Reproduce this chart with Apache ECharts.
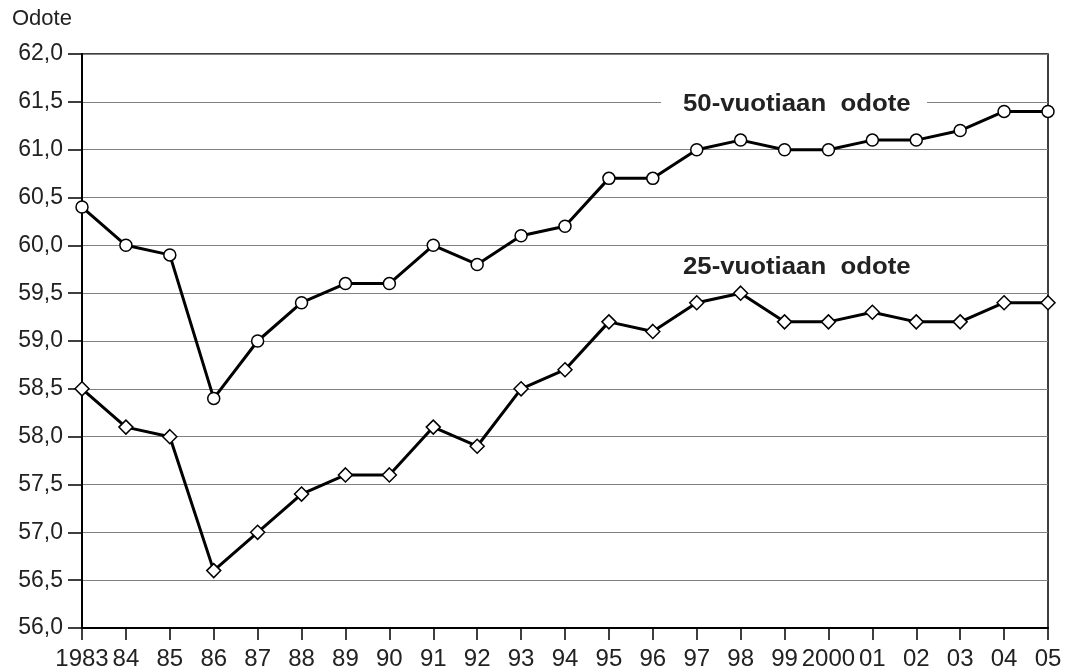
<!DOCTYPE html>
<html>
<head>
<meta charset="utf-8">
<script src="https://cdn.jsdelivr.net/npm/echarts@6/dist/echarts.min.js"></script>
<style>html,body{margin:0;padding:0;background:#fff}#c{width:1071px;height:672px}</style>
</head>
<body>
<div id="c"></div>
<script>
const years = ['1983','84','85','86','87','88','89','90','91','92','93','94','95','96','97','98','99','2000','01','02','03','04','05'];
const age50 = [60.4,60.0,59.9,58.4,59.0,59.4,59.6,59.6,60.0,59.8,60.1,60.2,60.7,60.7,61.0,61.1,61.0,61.0,61.1,61.1,61.2,61.4,61.4];
const age25 = [58.5,58.1,58.0,56.6,57.0,57.4,57.6,57.6,58.1,57.9,58.5,58.7,59.2,59.1,59.4,59.5,59.2,59.2,59.3,59.2,59.2,59.4,59.4];
const yTitle = 'Odote';
const label50 = '50-vuotiaan  odote';
const label25 = '25-vuotiaan  odote';

const chart = echarts.init(document.getElementById('c'));
const font = '"Liberation Sans", Arial, sans-serif';
chart.setOption({
  animation: false,
  grid: {left: 82, right: 23, top: 54, bottom: 44, show: true, borderColor: '#000', borderWidth: 1.5},
  xAxis: {
    type: 'category', data: years, boundaryGap: false,
    axisLine: {show: true, lineStyle: {color: '#000', width: 2}},
    axisTick: {show: true, interval: 0, inside: false, length: 12, lineStyle: {color: '#000', width: 1.5}},
    axisLabel: {color: '#222', fontSize: 24, fontFamily: font, margin: 19, interval: 0},
    splitLine: {show: false}
  },
  yAxis: {
    type: 'value', min: 56, max: 62, interval: 0.5,
    name: yTitle, nameLocation: 'end', nameGap: 24,
    nameTextStyle: {color: '#222', fontSize: 22, fontFamily: font, align: 'left', padding: [0, 0, 0, -70]},
    axisLine: {show: true, lineStyle: {color: '#000', width: 2}},
    axisTick: {show: true, length: 14, lineStyle: {color: '#000', width: 1.5}},
    axisLabel: {color: '#222', fontSize: 23, fontFamily: font, margin: 19,
      formatter: v => v.toFixed(1).replace('.', ',')},
    splitLine: {lineStyle: {color: '#808080', width: 1.2}}
  },
  series: [
    {type: 'line', data: age50, symbol: 'circle', symbolSize: 12,
     lineStyle: {color: '#000', width: 3}, itemStyle: {color: '#fff', borderColor: '#000', borderWidth: 1.5}, z: 3},
    {type: 'line', data: age25, symbol: 'diamond', symbolSize: 14,
     lineStyle: {color: '#000', width: 3}, itemStyle: {color: '#fff', borderColor: '#000', borderWidth: 1.5}, z: 3}
  ],
  graphic: [
    {type: 'rect', shape: {x: 661, y: 92, width: 266, height: 22}, style: {fill: '#fff'}, z: 10},
    {type: 'text', x: 683, y: 105, scaleX: 1.12, style: {text: label50, font: 'bold 23px ' + font, fill: '#222', textVerticalAlign: 'middle'}, z: 11},
    {type: 'text', x: 683, y: 268, scaleX: 1.12, style: {text: label25, font: 'bold 23px ' + font, fill: '#222', textVerticalAlign: 'middle'}, z: 11}
  ]
});
</script>
</body>
</html>
